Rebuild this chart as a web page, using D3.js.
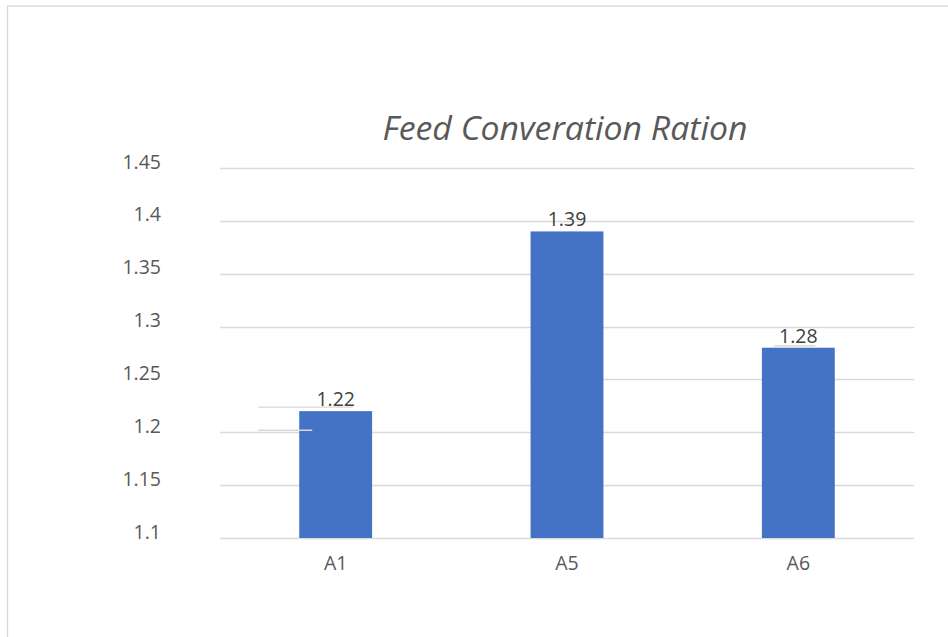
<!DOCTYPE html>
<html>
<head>
<meta charset="utf-8">
<script src="https://cdn.jsdelivr.net/npm/d3@7"></script>
<style>
  html, body { margin: 0; padding: 0; background: #fff; }
  svg { display: block; }
</style>
</head>
<body>
<svg id="chart" width="948" height="637"></svg>
<script>
const categories = ["A1", "A5", "A6"];
const values = [1.22, 1.39, 1.28];
const yTicks = [1.1, 1.15, 1.2, 1.25, 1.3, 1.35, 1.4, 1.45];
const yTickLabels = ["1.1", "1.15", "1.2", "1.25", "1.3", "1.35", "1.4", "1.45"];
const title = "Feed Converation Ration";

const svg = d3.select("#chart");
const W = 948, H = 637;
const plot = { left: 220, right: 914, top: 168, bottom: 538 };
const FONT = "'Open Sans', 'Liberation Sans', sans-serif";

// chart area border
svg.append("rect")
  .attr("x", 7.5).attr("y", 6)
  .attr("width", W + 20).attr("height", H + 20)
  .attr("fill", "#fff")
  .attr("stroke", "#d9d9d9").attr("stroke-width", 1.4);

const x = d3.scaleBand()
  .domain(categories)
  .range([plot.left, plot.right])
  .paddingInner(0.685).paddingOuter(0.3425);

const y = d3.scaleLinear()
  .domain([1.1, 1.45])
  .range([plot.bottom, plot.top]);

// gridlines
const grid = svg.append("g");
yTicks.forEach(t => {
  // the 1.25 line is only visible from the A5 bar onwards in the reference
  const x1 = (t === 1.25) ? x("A5") : plot.left;
  grid.append("line")
    .attr("x1", x1).attr("x2", plot.right)
    .attr("y1", Math.round(y(t)) + 0.5).attr("y2", Math.round(y(t)) + 0.5)
    .attr("stroke", "#d9d9d9").attr("stroke-width", 1.4);
});

// y tick labels
const yAxis = d3.axisLeft(y)
  .tickValues(yTicks)
  .tickFormat((d, i) => yTickLabels[i])
  .tickSize(0)
  .tickPadding(0);
const yg = svg.append("g")
  .attr("transform", `translate(${161},0)`)
  .call(yAxis);
yg.select(".domain").remove();
yg.selectAll("text")
  .attr("font-family", FONT)
  .attr("font-size", 19.5)
  .attr("fill", "#595959")
  .attr("dy", "-0.0em");

// bars
svg.append("g").selectAll("rect")
  .data(values)
  .join("rect")
  .attr("x", (d, i) => x(categories[i]))
  .attr("width", x.bandwidth())
  .attr("y", d => y(d))
  .attr("height", d => y(1.1) - y(d))
  .attr("fill", "#4472c4");

// artifact segments seen near the labels in the reference
const a1c = x("A1") + x.bandwidth() / 2;
svg.append("line")
  .attr("x1", plot.left + 38).attr("x2", a1c + 17)
  .attr("y1", y(values[0]) - 4).attr("y2", y(values[0]) - 4)
  .attr("stroke", "#d9d9d9").attr("stroke-width", 1.4);
svg.append("line")
  .attr("x1", plot.left + 38).attr("x2", x("A1") + 13)
  .attr("y1", y(1.2) - 2).attr("y2", y(1.2) - 2)
  .attr("stroke", "#d9d9d9").attr("stroke-width", 1.4);
const a6c = x("A6") + x.bandwidth() / 2;
svg.append("line")
  .attr("x1", a6c - 24).attr("x2", a6c + 17)
  .attr("y1", y(values[2]) - 2).attr("y2", y(values[2]) - 2)
  .attr("stroke", "#d9d9d9").attr("stroke-width", 1.4);

// data labels
svg.append("g").selectAll("text")
  .data(values)
  .join("text")
  .attr("x", (d, i) => x(categories[i]) + x.bandwidth() / 2)
  .attr("y", d => y(d) - 5)
  .attr("text-anchor", "middle")
  .attr("font-family", FONT)
  .attr("font-size", 19.5)
  .attr("fill", "#404040")
  .text(d => d.toFixed(2));

// x axis labels
const xAxis = d3.axisBottom(x).tickSize(0).tickPadding(0);
const xg = svg.append("g")
  .attr("transform", `translate(0,${plot.bottom})`)
  .call(xAxis);
xg.select(".domain").remove();
xg.selectAll("text")
  .attr("font-family", FONT)
  .attr("font-size", 19.5)
  .attr("fill", "#595959")
  .attr("dy", null)
  .attr("y", 32);

// title
svg.append("text")
  .attr("x", 565)
  .attr("y", 140)
  .attr("text-anchor", "middle")
  .attr("font-family", FONT)
  .attr("font-style", "italic")
  .attr("font-size", 32)
  .attr("fill", "#595959")
  .attr("textLength", 365)
  .attr("lengthAdjust", "spacingAndGlyphs")
  .text(title);
</script>
</body>
</html>
